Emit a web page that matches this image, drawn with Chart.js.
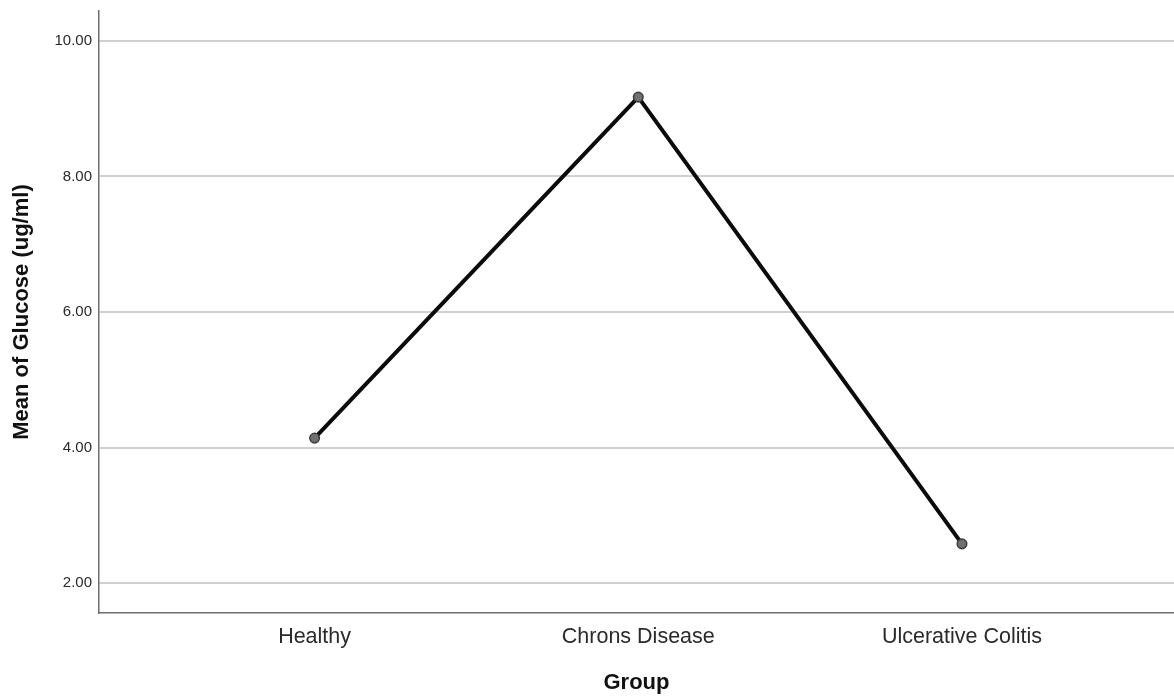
<!DOCTYPE html>
<html>
<head>
<meta charset="utf-8">
<script src="https://cdn.jsdelivr.net/npm/chart.js@4/dist/chart.umd.min.js"></script>
<style>
  html, body { margin: 0; padding: 0; background: #ffffff; }
  canvas { display: block; }
</style>
</head>
<body>
<canvas id="chart" width="1174" height="696"></canvas>
<script>
// Mean glucose per patient group
const groups = ['Healthy', 'Chrons Disease', 'Ulcerative Colitis'];
const meanGlucose = [4.14, 9.17, 2.58];
const yTickValues = [2, 4, 6, 8, 10];

const points = groups.map((g, i) => ({ x: i + 1, y: meanGlucose[i] }));
const FONT = '"Liberation Sans", Arial, sans-serif';

new Chart(document.getElementById('chart'), {
  type: 'line',
  data: {
    datasets: [{
      label: 'Mean of Glucose (ug/ml)',
      data: points,
      borderColor: '#0b0b0b',
      borderWidth: 4,
      backgroundColor: '#6f6f6f',
      pointBackgroundColor: '#707070',
      pointBorderColor: '#3c3c3c',
      pointBorderWidth: 1.5,
      pointRadius: 4.8,
      tension: 0,
      clip: false
    }]
  },
  options: {
    responsive: false,
    animation: false,
    layout: { autoPadding: false, padding: { left: 0, top: 11, right: 0, bottom: 0 } },
    plugins: {
      legend: { display: false },
      tooltip: { enabled: false }
    },
    scales: {
      x: {
        type: 'linear',
        min: 0.334,
        max: 3.655,
        afterBuildTicks: s => { s.ticks = groups.map((g, i) => ({ value: i + 1 })); },
        afterFit: s => { s.height = 83; s.paddingLeft = 0; s.paddingRight = 0; },
        ticks: {
          callback: v => groups[v - 1] || '',
          color: '#2a2a2a',
          font: { family: FONT, size: 21.5 },
          padding: 11,
          maxRotation: 0,
          autoSkip: false
        },
        grid: { display: true, drawOnChartArea: false, drawTicks: false },
        border: { display: true, color: '#6e6e6e', width: 1.5 },
        title: {
          display: true,
          text: 'Group',
          color: '#111111',
          font: { family: FONT, size: 22, weight: 'bold' },
          padding: { top: 0, bottom: 0 }
        }
      },
      y: {
        type: 'linear',
        min: 1.56,
        max: 10.44,
        afterBuildTicks: s => { s.ticks = yTickValues.map(v => ({ value: v })); },
        afterFit: s => { s.width = 99; s.paddingTop = 0; s.paddingBottom = 0; },
        ticks: {
          callback: v => Number(v).toFixed(2),
          color: '#2a2a2a',
          font: { family: FONT, size: 15 },
          padding: 7
        },
        grid: { color: '#d0d0d0', lineWidth: 2, drawTicks: false },
        border: { display: true, color: '#6e6e6e', width: 1.5 },
        title: {
          display: true,
          text: 'Mean of Glucose (ug/ml)',
          color: '#111111',
          font: { family: FONT, size: 22, weight: 'bold' },
          padding: { top: 9, bottom: 0 }
        }
      }
    }
  }
});
</script>
</body>
</html>
